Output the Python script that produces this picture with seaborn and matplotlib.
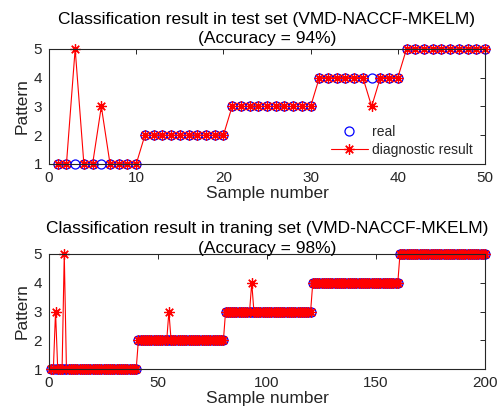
import numpy as np
import matplotlib
matplotlib.use("Agg")
import matplotlib.pyplot as plt
from matplotlib.lines import Line2D
import seaborn as sns

# Test set: true class labels and classifier output (50 samples)
test_real = [1, 1, 1, 1, 1, 1, 1, 1, 1, 1,
             2, 2, 2, 2, 2, 2, 2, 2, 2, 2,
             3, 3, 3, 3, 3, 3, 3, 3, 3, 3,
             4, 4, 4, 4, 4, 4, 4, 4, 4, 4,
             5, 5, 5, 5, 5, 5, 5, 5, 5, 5]
test_pred = [1, 1, 5, 1, 1, 3, 1, 1, 1, 1,
             2, 2, 2, 2, 2, 2, 2, 2, 2, 2,
             3, 3, 3, 3, 3, 3, 3, 3, 3, 3,
             4, 4, 4, 4, 4, 4, 3, 4, 4, 4,
             5, 5, 5, 5, 5, 5, 5, 5, 5, 5]

# Training set: true class labels and classifier output (200 samples)
train_real = ([1] * 40 + [2] * 40 + [3] * 40 + [4] * 40 + [5] * 40)
train_pred = [1, 1, 3, 1, 1, 1, 5, 1, 1, 1, 1, 1, 1, 1, 1, 1, 1, 1, 1, 1,
              1, 1, 1, 1, 1, 1, 1, 1, 1, 1, 1, 1, 1, 1, 1, 1, 1, 1, 1, 1,
              2, 2, 2, 2, 2, 2, 2, 2, 2, 2, 2, 2, 2, 2, 3, 2, 2, 2, 2, 2,
              2, 2, 2, 2, 2, 2, 2, 2, 2, 2, 2, 2, 2, 2, 2, 2, 2, 2, 2, 2,
              3, 3, 3, 3, 3, 3, 3, 3, 3, 3, 3, 3, 4, 3, 3, 3, 3, 3, 3, 3,
              3, 3, 3, 3, 3, 3, 3, 3, 3, 3, 3, 3, 3, 3, 3, 3, 3, 3, 3, 3,
              4, 4, 4, 4, 4, 4, 4, 4, 4, 4, 4, 4, 4, 4, 4, 4, 4, 4, 4, 4,
              4, 4, 4, 4, 4, 4, 4, 4, 4, 4, 4, 4, 4, 4, 4, 4, 4, 4, 4, 4,
              5, 5, 5, 5, 5, 5, 5, 5, 5, 5, 5, 5, 5, 5, 5, 5, 5, 5, 5, 5,
              5, 5, 5, 5, 5, 5, 5, 5, 5, 5, 5, 5, 5, 5, 5, 5, 5, 5, 5, 5]

titles = ["Classification result in test set (VMD-NACCF-MKELM)\n(Accuracy = 94%)",
          "Classification result in traning set (VMD-NACCF-MKELM)\n(Accuracy = 98%)"]
title_pads = [4, 1]
x_ticks = [[0, 10, 20, 30, 40, 50], [0, 50, 100, 150, 200]]
y_ticks = [1, 2, 3, 4, 5]

sns.set_style("white")
plt.rcParams["font.family"] = ["Liberation Sans", "DejaVu Sans"]

TXT = "#262626"
ASTER = (8, 2, 0)

fig = plt.figure(figsize=(5.0, 4.11), dpi=100)
ax_top = fig.add_axes([0.098, 0.601, 0.872, 0.280])
ax_bot = fig.add_axes([0.098, 0.102, 0.872, 0.280])

panels = [(ax_top, test_real, test_pred), (ax_bot, train_real, train_pred)]
for i, (ax, real, pred) in enumerate(panels):
    n = np.arange(1, len(real) + 1)
    sns.lineplot(x=n, y=real, ax=ax, linestyle="", marker="o", markersize=6.5,
                 markerfacecolor="none", markeredgecolor="blue",
                 markeredgewidth=0.9, color="blue", clip_on=False)
    sns.lineplot(x=n, y=pred, ax=ax, color="red", linewidth=0.8,
                 marker=ASTER, markersize=7.5, markeredgewidth=0.9,
                 markeredgecolor="red", clip_on=False)
    ax.set_xlim(x_ticks[i][0], x_ticks[i][-1])
    ax.set_ylim(1, 5)
    ax.set_xticks(x_ticks[i])
    ax.set_yticks(y_ticks)
    ax.tick_params(direction="in", length=3.5, width=0.7, top=True, right=True,
                   labelsize=11, labelcolor=TXT, color=TXT, pad=5)
    for s in ax.spines.values():
        s.set_color(TXT)
        s.set_linewidth(0.8)
    ax.set_title(titles[i], fontsize=12.5, color="black", linespacing=1.38,
                 pad=title_pads[i])
    ax.set_xlabel("Sample number", fontsize=12.5, color=TXT, labelpad=1)
    ax.set_ylabel("Pattern", fontsize=12.5, color=TXT, labelpad=3)

handles = [
    Line2D([], [], linestyle="", marker="o", markersize=6.5,
           markerfacecolor="none", markeredgecolor="blue", markeredgewidth=0.9),
    Line2D([], [], color="red", linewidth=0.8, marker=ASTER, markersize=7.5,
           markeredgewidth=0.9, markeredgecolor="red"),
]
ax_top.legend(handles, ["real", "diagnostic result"], loc="upper left",
              bbox_to_anchor=(0.635, 0.39), frameon=False, fontsize=10,
              handlelength=2.6, handletextpad=0.3, labelspacing=0.3,
              borderaxespad=0.0)

fig.savefig("out.png", dpi=100)
